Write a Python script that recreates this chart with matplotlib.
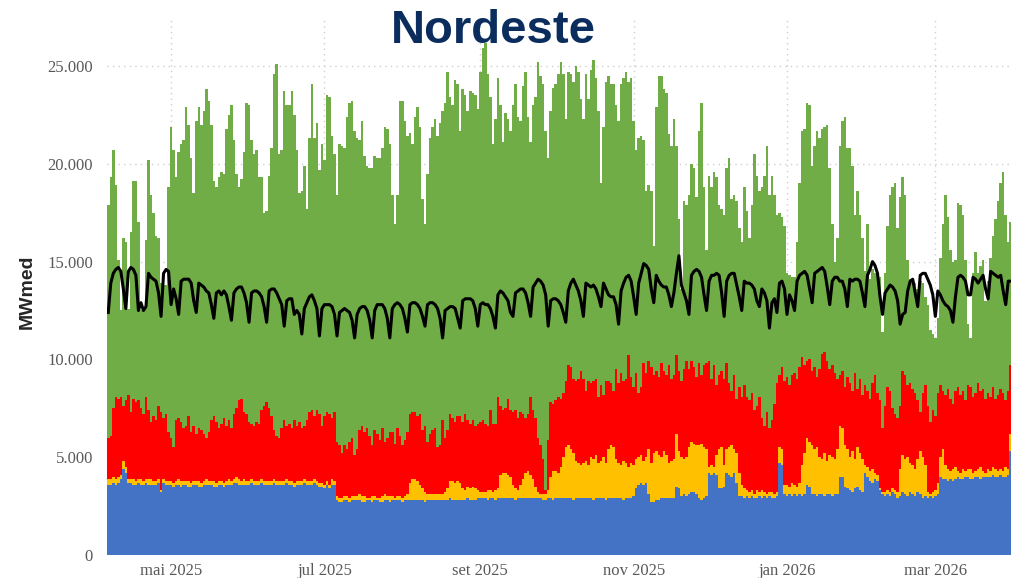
import numpy as np
import matplotlib
matplotlib.use("Agg")
import matplotlib.pyplot as plt
import matplotlib.dates as mdates
import pandas as pd

# ---------------- data (MWmed / 1000, daily, from 2025-04-06) ----------------
inicio = "2025-04-06"

# cumulative top of each stacked layer (blue, yellow, red, green)
topo_azul = [
    3.6, 3.6, 3.7, 3.6, 3.7, 3.9, 4.4, 4.2, 3.7, 3.7,
    3.6, 3.6, 3.7, 3.6, 3.6, 3.7, 3.6, 3.6, 3.6, 3.6,
    3.7, 3.2, 3.7, 3.6, 3.6, 3.6, 3.5, 3.6, 3.6, 3.5,
    3.6, 3.6, 3.5, 3.5, 3.6, 3.6, 3.5, 3.5, 3.6, 3.6,
    3.6, 3.6, 3.5, 3.5, 3.6, 3.6, 3.5, 3.6, 3.6, 3.6,
    3.7, 3.7, 3.6, 3.6, 3.6, 3.6, 3.6, 3.7, 3.6, 3.6,
    3.6, 3.7, 3.6, 3.6, 3.6, 3.6, 3.7, 3.6, 3.6, 3.6,
    3.6, 3.7, 3.6, 3.6, 3.5, 3.6, 3.6, 3.6, 3.7, 3.6,
    3.6, 3.6, 3.7, 3.6, 3.5, 3.5, 3.4, 3.6, 3.4, 3.6,
    3.6, 2.8, 2.7, 2.7, 2.8, 2.8, 2.7, 2.8, 2.8, 2.8,
    2.8, 2.7, 2.7, 2.8, 2.8, 2.7, 2.8, 2.8, 2.7, 2.7,
    2.8, 2.8, 2.7, 2.8, 2.8, 2.8, 2.8, 2.7, 2.8, 2.8,
    2.8, 2.8, 2.8, 2.8, 2.8, 2.8, 2.7, 2.8, 2.8, 2.8,
    2.8, 2.8, 2.8, 2.8, 2.8, 2.8, 2.9, 2.8, 2.8, 2.8,
    2.8, 2.8, 2.8, 2.9, 2.8, 2.8, 2.8, 2.9, 2.9, 2.9,
    2.9, 2.8, 2.9, 2.9, 2.8, 2.9, 2.9, 2.9, 2.9, 2.9,
    2.9, 2.9, 2.8, 2.9, 2.9, 2.9, 2.9, 2.9, 2.9, 2.9,
    2.9, 2.9, 2.9, 2.8, 2.8, 2.9, 2.9, 2.8, 2.9, 2.9,
    2.9, 2.9, 2.9, 2.9, 2.9, 2.8, 2.9, 2.9, 2.9, 2.9,
    2.9, 2.9, 2.9, 2.8, 2.9, 2.9, 2.9, 2.9, 2.8, 2.9,
    2.9, 2.9, 2.9, 2.9, 2.9, 2.8, 2.9, 2.9, 2.9, 3.0,
    3.4, 3.6, 3.7, 3.6, 3.7, 3.1, 2.7, 2.7, 2.8, 2.8,
    2.9, 2.9, 2.9, 2.9, 2.9, 2.9, 3.5, 3.4, 3.0, 3.1,
    3.0, 3.1, 3.2, 3.2, 3.1, 2.9, 2.8, 2.9, 3.0, 4.2,
    4.1, 4.2, 4.1, 3.4, 3.4, 3.5, 4.2, 4.1, 4.0, 4.2,
    3.7, 3.0, 3.0, 2.9, 3.0, 2.9, 3.0, 2.9, 2.9, 3.0,
    2.9, 3.0, 2.9, 3.0, 2.9, 2.9, 3.0, 4.7, 4.6, 3.1,
    3.0, 3.1, 3.0, 3.1, 3.0, 3.1, 3.0, 3.1, 3.6, 3.5,
    3.1, 3.1, 3.0, 3.1, 3.1, 3.0, 3.1, 3.1, 3.0, 3.1,
    3.1, 4.0, 4.0, 3.5, 3.4, 3.3, 3.2, 3.4, 3.5, 3.3,
    3.2, 4.2, 4.0, 3.8, 3.7, 3.9, 3.8, 3.3, 3.1, 3.0,
    3.1, 3.0, 3.2, 3.1, 2.9, 3.0, 3.2, 3.1, 3.0, 3.2,
    3.1, 3.0, 3.2, 3.1, 2.9, 3.0, 2.9, 3.0, 2.9, 3.0,
    3.1, 4.0, 3.9, 3.9, 3.8, 3.9, 3.8, 3.9, 4.0, 3.9,
    3.9, 4.0, 4.0, 3.9, 3.9, 4.0, 4.0, 3.9, 4.0, 4.0,
    4.0, 4.0, 4.1, 4.0, 4.0, 4.1, 4.0, 4.0, 4.1, 5.3,
]

topo_amarelo = [
    3.9, 3.9, 4.0, 3.9, 4.0, 4.1, 4.8, 4.5, 3.9, 3.9,
    3.9, 3.8, 3.9, 3.9, 3.8, 3.9, 3.9, 3.9, 3.8, 3.8,
    3.9, 3.3, 3.9, 3.8, 3.8, 3.8, 3.7, 3.8, 3.9, 3.8,
    3.8, 3.8, 3.8, 3.7, 3.8, 3.8, 3.8, 3.7, 3.8, 3.9,
    3.8, 3.8, 3.8, 3.7, 3.8, 3.8, 3.7, 3.8, 3.9, 3.8,
    3.9, 4.0, 3.9, 3.8, 3.9, 3.8, 3.8, 3.9, 3.8, 3.8,
    3.8, 3.9, 3.8, 3.8, 3.8, 3.8, 3.9, 3.8, 3.8, 3.8,
    3.8, 3.9, 3.8, 3.8, 3.7, 3.8, 3.8, 3.8, 3.9, 3.8,
    3.8, 3.8, 3.9, 3.8, 3.7, 3.7, 3.6, 3.8, 3.6, 3.9,
    3.8, 3.0, 2.9, 2.9, 3.0, 3.0, 2.9, 3.0, 3.0, 3.0,
    3.1, 3.0, 3.0, 2.9, 2.9, 3.0, 3.0, 2.9, 2.9, 3.0,
    3.1, 3.0, 3.0, 3.0, 2.9, 3.0, 3.0, 2.9, 3.0, 3.1,
    3.7, 3.9, 3.9, 3.8, 3.6, 3.4, 3.2, 3.1, 3.1, 3.1,
    3.1, 3.1, 3.1, 3.1, 3.2, 3.4, 3.8, 3.8, 3.7, 3.8,
    3.7, 3.4, 3.3, 3.5, 3.4, 3.5, 3.4, 3.3, 3.2, 3.2,
    3.2, 3.3, 3.3, 3.2, 3.3, 3.4, 4.1, 4.2, 4.2, 4.1,
    4.0, 3.6, 3.4, 3.3, 3.6, 3.9, 4.2, 4.3, 4.1, 3.9,
    3.5, 3.2, 3.1, 3.1, 3.1, 3.3, 4.0, 4.3, 4.3, 4.2,
    4.5, 5.0, 5.5, 5.6, 5.4, 5.2, 4.8, 4.7, 4.6, 4.7,
    4.8, 4.6, 5.0, 4.9, 5.1, 4.7, 4.8, 5.0, 4.7, 5.4,
    5.6, 5.5, 4.9, 4.7, 4.6, 4.8, 4.7, 4.5, 4.7, 4.6,
    4.9, 5.0, 5.1, 4.8, 5.0, 5.4, 4.7, 5.2, 5.3, 5.1,
    5.0, 5.3, 5.1, 4.7, 4.8, 4.9, 6.2, 5.3, 5.0, 4.9,
    5.0, 5.5, 5.8, 5.7, 5.6, 5.6, 5.7, 5.5, 5.4, 4.5,
    4.6, 4.5, 5.1, 5.4, 5.5, 4.6, 5.4, 5.5, 5.6, 5.4,
    5.2, 4.2, 3.6, 3.4, 3.3, 3.2, 3.3, 3.1, 3.3, 3.2,
    3.3, 3.2, 3.1, 3.2, 3.2, 3.1, 3.2, 5.5, 5.4, 3.6,
    3.6, 3.5, 3.7, 3.6, 3.5, 3.7, 4.6, 5.2, 6.0, 5.8,
    5.6, 5.4, 5.5, 5.0, 4.9, 5.2, 4.8, 5.1, 5.0, 4.9,
    5.4, 6.6, 6.5, 5.6, 5.4, 5.0, 5.3, 4.9, 5.5, 5.2,
    4.9, 4.6, 4.5, 4.3, 4.4, 4.2, 4.1, 3.4, 3.2, 3.2,
    3.3, 3.2, 3.4, 3.3, 3.2, 4.4, 5.1, 4.9, 5.0, 4.7,
    4.6, 4.4, 4.9, 5.3, 5.0, 4.6, 3.2, 3.1, 3.2, 3.3,
    3.7, 5.0, 5.4, 4.6, 4.4, 4.3, 4.4, 4.5, 4.3, 4.2,
    4.4, 4.3, 4.4, 4.4, 4.2, 4.3, 4.4, 4.5, 4.3, 4.2,
    4.4, 4.3, 4.5, 4.4, 4.3, 4.4, 4.3, 4.5, 4.4, 6.2,
]

topo_vermelho = [
    6.0, 6.1, 7.5, 8.1, 8.0, 8.1, 7.6, 7.9, 8.2, 7.3,
    8.0, 7.8, 7.9, 7.5, 7.2, 8.1, 7.4, 6.8, 7.1, 6.9,
    7.6, 7.3, 7.0, 7.2, 6.3, 6.0, 5.5, 6.9, 7.0, 6.8,
    6.5, 6.6, 7.1, 6.3, 6.6, 6.2, 6.5, 6.4, 6.2, 6.0,
    6.3, 6.9, 7.1, 6.8, 6.5, 6.7, 7.0, 6.6, 6.9, 6.5,
    7.2, 7.5, 7.9, 8.0, 7.3, 7.2, 6.8, 6.7, 6.6, 6.8,
    6.7, 7.4, 7.6, 7.8, 7.5, 7.1, 6.4, 6.1, 6.0, 6.5,
    6.9, 6.6, 6.7, 6.5, 6.9, 6.6, 6.8, 6.5, 6.6, 6.9,
    7.3, 7.4, 7.1, 7.4, 7.2, 6.6, 7.1, 7.3, 7.2, 7.0,
    7.3, 5.8, 5.6, 5.2, 5.6, 5.4, 5.8, 6.0, 5.1, 5.4,
    6.4, 6.6, 6.3, 6.5, 6.1, 5.6, 6.4, 6.2, 5.9, 6.5,
    5.8, 6.0, 6.3, 6.3, 5.7, 6.5, 6.1, 5.6, 5.9, 6.3,
    7.2, 7.3, 7.3, 7.1, 7.2, 6.4, 6.6, 5.8, 6.2, 6.4,
    6.5, 5.5, 5.6, 6.9, 6.0, 6.4, 7.2, 7.0, 6.8, 7.1,
    7.1, 6.8, 7.2, 6.9, 6.7, 6.9, 6.6, 6.7, 6.8, 6.9,
    6.7, 6.6, 7.4, 6.7, 6.7, 8.1, 7.6, 7.4, 7.5, 8.0,
    7.4, 7.3, 7.4, 7.0, 7.3, 7.2, 7.0, 7.2, 8.1, 7.4,
    7.0, 6.0, 5.6, 4.9, 3.3, 5.9, 7.8, 7.7, 7.9, 8.1,
    8.0, 8.3, 8.9, 9.7, 9.6, 9.0, 8.9, 9.0, 9.4, 9.0,
    8.4, 8.9, 8.8, 8.9, 9.0, 8.1, 8.7, 8.2, 8.9, 8.9,
    8.8, 8.4, 9.5, 8.8, 9.3, 8.9, 9.0, 10.2, 9.1, 8.6,
    9.3, 8.3, 8.6, 9.8, 9.3, 9.9, 9.6, 9.2, 9.4, 9.1,
    9.8, 9.4, 9.2, 9.7, 9.0, 9.2, 10.2, 9.4, 8.9, 9.5,
    9.9, 9.5, 9.9, 9.6, 9.1, 9.8, 9.2, 9.7, 9.8, 9.9,
    9.0, 9.7, 8.7, 9.2, 9.4, 9.0, 9.8, 8.8, 8.4, 9.2,
    8.0, 8.6, 8.1, 8.7, 8.1, 7.9, 8.3, 7.4, 7.6, 8.1,
    7.0, 6.6, 7.3, 6.5, 6.9, 7.7, 8.8, 9.2, 9.6, 8.9,
    9.1, 8.7, 9.2, 9.3, 9.0, 9.6, 10.1, 9.7, 9.9, 10.0,
    9.4, 9.6, 9.1, 9.5, 10.3, 10.4, 9.9, 9.5, 9.7, 9.3,
    9.0, 9.2, 9.4, 8.6, 9.1, 8.8, 8.4, 9.3, 8.5, 9.0,
    8.2, 8.7, 8.4, 8.0, 8.8, 9.2, 8.3, 7.9, 6.5, 7.6,
    8.6, 8.4, 7.5, 7.2, 7.0, 7.6, 9.4, 9.2, 8.7, 8.8,
    8.5, 8.3, 7.9, 7.3, 8.3, 8.7, 7.6, 6.8, 7.4, 7.1,
    8.3, 8.7, 8.4, 8.2, 8.5, 8.0, 7.7, 8.4, 8.6, 8.2,
    8.4, 7.9, 8.7, 8.6, 8.1, 8.3, 8.8, 8.4, 8.5, 8.0,
    8.3, 8.1, 8.6, 8.0, 8.2, 8.5, 8.3, 7.9, 8.4, 9.7,
]

topo_verde = [
    17.9, 19.3, 20.7, 18.9, 15.1, 12.5, 16.2, 16.0, 12.6, 16.5,
    19.1, 19.1, 17.0, 12.5, 12.5, 16.1, 20.2, 18.4, 17.5, 16.3,
    16.2, 13.9, 13.8, 13.8, 18.8, 21.9, 20.7, 19.3, 20.6, 21.0,
    21.2, 22.9, 22.0, 20.3, 18.5, 22.2, 22.9, 22.0, 22.7, 23.8,
    23.2, 22.0, 19.1, 18.8, 19.3, 19.6, 19.5, 21.8, 22.5, 23.0,
    21.2, 19.5, 18.8, 19.2, 20.6, 23.1, 23.0, 21.2, 20.5, 20.7,
    19.3, 19.3, 17.5, 17.6, 19.4, 20.8, 24.6, 25.1, 20.5, 20.7,
    23.7, 23.0, 23.0, 23.7, 22.5, 20.7, 18.5, 18.6, 19.9, 17.7,
    21.3, 24.1, 21.3, 22.1, 19.7, 21.0, 20.2, 23.5, 23.4, 21.4,
    20.5, 18.4, 21.0, 20.9, 20.8, 22.4, 23.1, 23.2, 21.7, 21.3,
    21.2, 22.2, 20.4, 19.9, 19.8, 19.8, 20.4, 20.3, 20.3, 20.8,
    21.9, 21.8, 21.0, 18.4, 16.9, 18.4, 23.2, 23.2, 22.2, 21.4,
    21.6, 21.0, 22.4, 22.9, 21.9, 18.2, 16.9, 19.5, 21.3, 21.9,
    22.3, 21.4, 22.1, 22.7, 23.1, 24.7, 23.4, 23.0, 24.3, 24.1,
    21.7, 23.8, 23.5, 22.7, 23.7, 23.6, 23.5, 22.8, 24.7, 25.9,
    26.2, 24.6, 23.4, 21.0, 22.3, 24.4, 23.0, 21.1, 22.6, 22.3,
    21.7, 23.0, 24.1, 22.4, 22.2, 24.0, 24.7, 22.4, 21.1, 23.0,
    23.4, 25.2, 24.5, 24.1, 21.7, 20.3, 22.7, 23.9, 24.1, 24.6,
    25.2, 24.6, 22.3, 24.7, 24.6, 24.2, 25.0, 24.7, 23.3, 22.3,
    24.6, 23.3, 24.8, 25.3, 24.4, 22.7, 19.0, 21.9, 24.2, 24.5,
    24.1, 24.1, 23.0, 22.2, 24.1, 24.4, 24.7, 24.2, 24.4, 22.2,
    20.7, 21.3, 21.4, 21.2, 18.6, 18.9, 18.6, 15.8, 22.9, 24.5,
    24.5, 23.8, 23.6, 21.5, 20.9, 22.3, 20.9, 17.2, 13.6, 18.1,
    17.9, 18.4, 20.0, 19.8, 18.3, 21.7, 23.1, 18.8, 15.6, 19.4,
    18.8, 19.6, 19.3, 17.9, 17.7, 17.4, 19.8, 20.3, 18.2, 18.4,
    18.1, 16.7, 16.0, 18.8, 17.6, 16.2, 17.9, 20.5, 19.4, 18.6,
    18.8, 19.4, 20.9, 18.4, 19.4, 18.4, 17.4, 17.5, 17.3, 16.8,
    14.4, 14.3, 14.2, 14.2, 16.0, 19.0, 21.7, 21.8, 23.1, 23.0,
    19.9, 20.9, 21.7, 21.3, 21.8, 21.9, 22.0, 19.8, 16.9, 15.0,
    16.2, 20.9, 22.2, 22.4, 20.8, 20.8, 19.9, 17.4, 18.6, 17.4,
    16.2, 14.5, 16.9, 14.1, 14.6, 14.4, 14.4, 14.2, 11.4, 14.4,
    16.8, 18.4, 18.8, 19.0, 16.7, 18.3, 19.3, 18.4, 15.1, 14.1,
    14.0, 13.9, 13.6, 14.0, 13.9, 13.2, 12.8, 11.5, 11.3, 11.1,
    12.1, 15.2, 16.9, 18.4, 17.3, 15.6, 15.0, 15.1, 18.0, 17.9,
    17.4, 15.1, 11.8, 11.1, 14.4, 15.5, 14.4, 14.8, 15.1, 13.0,
    14.0, 15.2, 16.3, 17.2, 18.1, 19.0, 19.6, 17.4, 16.0, 17.0,
]

carga = [
    12.4, 13.9, 14.4, 14.6, 14.7, 14.5, 13.6,
    12.6, 14.5, 14.7, 14.6, 14.3, 12.5, 12.9,
    12.5, 12.7, 14.4, 14.2, 14.1, 14.0, 13.4,
    12.2, 14.4, 14.6, 14.5, 12.8, 13.6, 13.1,
    12.3, 14.0, 14.1, 14.1, 14.1, 13.9, 13.0,
    12.4, 13.9, 13.8, 13.7, 13.5, 13.4, 12.8,
    12.1, 13.4, 13.5, 13.3, 13.5, 13.3, 12.7,
    12.0, 13.4, 13.6, 13.7, 13.7, 13.4, 12.9,
    11.9, 13.4, 13.5, 13.5, 13.4, 13.2, 12.7,
    11.9, 13.5, 13.6, 13.6, 13.4, 13.1, 12.8,
    11.7, 13.0, 13.1, 13.1, 12.3, 12.5, 12.3,
    11.3, 12.6, 12.9, 13.2, 13.3, 13.0, 12.6,
    11.2, 12.6, 12.8, 12.8, 12.8, 12.7, 12.3,
    11.2, 12.4, 12.5, 12.6, 12.5, 12.4, 12.0,
    11.1, 12.3, 12.6, 12.7, 12.7, 12.5, 12.0,
    11.1, 12.5, 12.8, 12.8, 12.8, 12.6, 12.1,
    11.1, 12.6, 12.8, 12.9, 12.8, 12.6, 12.1,
    11.4, 12.8, 12.9, 12.9, 12.8, 12.6, 12.2,
    11.7, 12.8, 12.9, 12.9, 12.8, 12.6, 12.1,
    11.1, 12.5, 12.6, 12.7, 12.7, 12.6, 12.1,
    11.6, 13.0, 13.1, 13.1, 13.1, 13.0, 12.6,
    11.7, 12.8, 12.9, 12.8, 12.8, 12.6, 12.2,
    11.6, 13.3, 13.5, 13.4, 13.2, 13.0, 12.4,
    12.2, 13.4, 13.5, 13.6, 13.6, 13.4, 12.9,
    12.2, 13.7, 13.9, 14.1, 14.0, 13.8, 13.3,
    11.7, 13.0, 13.1, 13.1, 13.0, 12.8, 12.4,
    11.9, 13.5, 13.9, 14.1, 13.8, 13.5, 13.0,
    12.2, 13.9, 13.8, 13.7, 13.8, 13.6, 13.2,
    12.7, 13.9, 13.6, 13.3, 13.2, 13.2, 12.8,
    11.8, 13.5, 13.9, 14.2, 14.3, 14.0, 13.2,
    12.3, 13.9, 14.4, 14.9, 14.8, 14.6, 13.6,
    12.9, 14.3, 14.0, 13.8, 13.7, 13.7, 13.3,
    12.7, 13.4, 14.4, 15.3, 13.8, 13.4, 13.0,
    12.3, 14.3, 14.5, 14.6, 14.5, 14.2, 13.3,
    12.5, 14.0, 14.3, 14.3, 14.4, 14.3, 13.4,
    12.2, 14.0, 14.3, 14.4, 14.4, 13.8, 13.2,
    12.5, 14.0, 13.9, 13.9, 13.8, 13.6, 13.0,
    12.7, 13.6, 13.4, 13.0, 11.6, 12.9, 13.1,
    12.4, 13.9, 14.0, 13.6, 12.3, 13.3, 13.0,
    12.5, 14.0, 14.3, 14.4, 14.5, 14.3, 13.6,
    12.9, 14.4, 14.5, 14.6, 14.7, 14.5, 13.7,
    12.8, 14.0, 14.2, 14.2, 14.0, 14.0, 13.6,
    12.7, 14.1, 14.0, 14.1, 14.1, 14.0, 13.4,
    12.7, 14.3, 14.6, 15.0, 14.8, 14.4, 13.2,
    12.3, 13.4, 13.6, 13.8, 13.7, 13.5, 13.0,
    11.8, 12.3, 12.4, 13.5, 14.0, 14.1, 13.4,
    12.7, 14.3, 14.4, 14.4, 14.1, 13.8, 13.3,
    12.2, 13.5, 13.3, 13.0, 12.8, 12.7, 12.5,
    11.9, 13.2, 14.2, 14.3, 14.2, 14.0, 13.3,
    13.3, 14.2, 14.1, 13.9, 14.1, 14.3, 13.6,
    13.1, 14.5, 14.4, 14.3, 14.2, 14.3, 13.5,
    12.8, 14.0, 14.0,
]

rotulos_x = ["mai 2025", "jul 2025", "set 2025", "nov 2025", "jan 2026", "mar 2026"]
datas_x = ["2025-05-01", "2025-07-01", "2025-09-01", "2025-11-01", "2026-01-01", "2026-03-01"]
ticks_y = [0, 5000, 10000, 15000, 20000, 25000]
rotulos_y = ["0", "5.000", "10.000", "15.000", "20.000", "25.000"]

cores = ["#4472C4", "#FFC000", "#FF0000", "#70AD47"]

n = len(carga)
for arr in (topo_azul, topo_amarelo, topo_vermelho, topo_verde):
    assert len(arr) == n, len(arr)

# ---------------- build stacked components ----------------
tops = [np.array(a) * 1000 for a in (topo_azul, topo_amarelo, topo_vermelho, topo_verde)]
comps = [tops[0]] + [np.maximum(tops[i] - tops[i - 1], 0) for i in range(1, 4)]
dias = pd.date_range(inicio, periods=n, freq="D")
x = mdates.date2num(dias)

fig = plt.figure(figsize=(10.12, 5.78), dpi=100)
W, H = 1012, 578
ax_left, ax_right, ax_bottom, ax_top = 107, 1012, 555, 17
ax = fig.add_axes([ax_left / W, 1 - ax_bottom / H, (ax_right - ax_left) / W, (ax_bottom - ax_top) / H])

y_per_px = 1000 / 19.56
ymax = (ax_bottom - ax_top) * y_per_px

bottom = np.zeros(n)
for comp, cor in zip(comps, cores):
    ax.bar(x, comp, bottom=bottom, width=1.0, color=cor, linewidth=0, align="center", zorder=2)
    bottom = bottom + comp

ax.plot(x, np.array(carga) * 1000, color="black", linewidth=2.2, solid_joinstyle="round", zorder=3)

ax.set_xlim(x[0] - 0.5, x[-1] + 0.5)
ax.set_ylim(0, ymax)

ax.set_yticks(ticks_y)
ax.set_yticklabels(rotulos_y)
ax.set_xticks(mdates.date2num(pd.to_datetime(datas_x)))
ax.set_xticklabels(rotulos_x)

for lab in ax.get_yticklabels() + ax.get_xticklabels():
    lab.set_fontfamily("Liberation Serif")
    lab.set_fontsize(12)
    lab.set_color("#595959")
ax.tick_params(axis="y", length=0, pad=10)
ax.tick_params(axis="x", length=0, pad=6)

ax.grid(True, axis="both", color="#cfcfcf", linestyle=(0, (1, 3)), linewidth=1.0, zorder=0)
ax.set_axisbelow(True)
for s in ax.spines.values():
    s.set_visible(False)

fig.text(493 / W, 1 - 31 / H, "Nordeste", ha="center", va="center",
         fontsize=34, fontweight="bold", color="#0B2D5E", family="Liberation Sans", zorder=10)
fig.text(27 / W, 1 - 292 / H, "MWmed", ha="center", va="center", rotation=90,
         fontsize=14, fontweight="bold", color="#262626", family="Liberation Sans")

fig.savefig("out.png", dpi=100)
